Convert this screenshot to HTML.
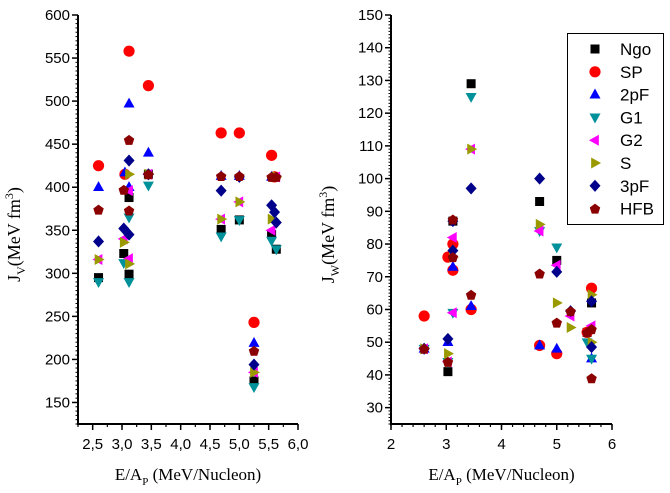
<!DOCTYPE html>
<html><head><meta charset="utf-8"><style>
body{margin:0;background:#fff}
svg{display:block;font-family:"Liberation Sans",sans-serif}
</style></head><body>
<svg id="c" width="670" height="493" xmlns="http://www.w3.org/2000/svg"></svg>
<script>
const seriesNames=["Ngo","SP","2pF","G1","G2","S","3pF","HFB"];
const seriesColors=["#000000","#ff0000","#0000ff","#00919a","#ff00ff","#9a9a00","#00008b","#8b0000"];
const seriesShapes=["square","circle","up","down","left","right","diamond","pentagon"];
// Left panel (J_V)
const jvX=[
[2.6,3.03,3.12,3.12,3.45,4.69,5.0,5.25,5.55,5.63],
[2.6,3.12,3.45,3.05,4.69,5.0,5.25,5.55,5.6],
[2.6,3.12,3.45,3.05,3.12,4.69,5.0,5.25,5.55],
[2.6,3.03,3.12,3.12,3.45,4.69,5.0,5.25,5.55,5.63],
[2.6,3.03,3.12,3.12,3.45,4.69,5.0,5.25,5.55,5.63],
[2.6,3.03,3.12,3.12,3.45,4.69,5.0,5.25,5.55,5.63],
[2.6,3.03,3.12,3.12,3.45,4.69,5.0,5.25,5.55,5.6,5.63],
[2.6,3.03,3.12,3.12,3.45,4.69,5.0,5.25,5.55,5.63]];
const jvY=[
[295,323,388,299,415,351,362,175,345,328],
[425,558,518,415,463,463,243,437,412],
[400,497,440,417,400,413,413,219,412],
[290,312,365,290,402,343,362,168,338,328],
[316,340,396,317,415,363,383,185,350,412],
[316,336,415,311,415,363,383,185,363,412],
[337,352,431,345,415,396,412,194,379,371,359],
[374,397,455,373,415,413,413,210,412,412]];
// Right panel (J_W)
const jwX=[
[3.03,3.12,3.45,4.69,5.0,5.55,5.63],
[2.6,3.03,3.12,3.12,3.45,4.69,5.0,5.63,5.55],
[2.6,3.03,3.12,3.45,4.69,5.0,5.63],
[2.6,3.03,3.12,3.45,4.69,5.0,5.55,5.63],
[2.6,3.03,3.12,3.12,3.45,4.69,5.0,5.25,5.63],
[2.6,3.03,3.12,3.45,4.69,5.0,5.25,5.63,5.63],
[2.6,3.03,3.12,3.12,3.45,4.69,5.0,5.25,5.63,5.63],
[2.6,3.03,3.12,3.12,3.45,4.69,5.0,5.25,5.55,5.63,5.63]];
const jwY=[
[41,87,129,93,75,53,62],
[58,76,80,72,60,49,46.5,66.5,53],
[48,50,73,61,49,48,45],
[48,44,59,125,84,79,50,45],
[48,44,82,59,109,84,73.5,58,55],
[48,46.5,76,109,86,62,54.5,64.5,50],
[48,51,78,87,97,100,71.5,59.5,62.5,48.5],
[48,44,76,87.5,64.5,71,56,59.5,53,54,39]];
const jvXTicks=["2,5","3,0","3,5","4,0","4,5","5,0","5,5","6,0"];
const jvYTicks=[150,200,250,300,350,400,450,500,550,600];
const jwXTicks=[2,3,4,5,6];
const jwYTicks=[30,40,50,60,70,80,90,100,110,120,130,140,150];

const svg=document.getElementById('c');
const NS="http://www.w3.org/2000/svg";
function el(tag,attrs,parent){const e=document.createElementNS(NS,tag);for(const k in attrs)e.setAttribute(k,attrs[k]);(parent||svg).appendChild(e);return e;}
function marker(g,shape,cx,cy,color){
 const s=1.1;let e;
 if(shape==="square")e=el('rect',{x:cx-4.5,y:cy-4.5,width:9,height:9,fill:color},g);
 else if(shape==="circle")e=el('circle',{cx:cx,cy:cy,r:5.6,fill:color},g);
 else{
  let pts;
  if(shape==="up")pts=[[0,-5.5],[5,3.5],[-5,3.5]];
  else if(shape==="down")pts=[[0,5.5],[5,-3.5],[-5,-3.5]];
  else if(shape==="left")pts=[[-5.5,0],[3.5,-5],[3.5,5]];
  else if(shape==="right")pts=[[5.5,0],[-3.5,-5],[-3.5,5]];
  else if(shape==="diamond")pts=[[0,-5.5],[5,0],[0,5.5],[-5,0]];
  else {pts=[];for(let i=0;i<5;i++){const a=-Math.PI/2+i*2*Math.PI/5;pts.push([5*Math.cos(a),5*Math.sin(a)+0.5]);}}
  e=el('polygon',{points:pts.map(p=>(cx+p[0]*s)+","+(cy+p[1]*s)).join(" "),fill:color},g);
 }
 return e;
}
function panel(opt){
 const g=el('g',{});
 
 
 const X=v=>opt.x0+(v-opt.xmin)/(opt.xmax-opt.xmin)*(opt.x1-opt.x0);
 const Y=v=>opt.y1-(v-opt.ymin)/(opt.ymax-opt.ymin)*(opt.y1-opt.y0);
 const ax=el('path',{d:`M${opt.x0},${opt.y0}V${opt.y1}H${opt.x1}`,stroke:"#000","stroke-width":2,fill:"none"},g);
 
 
 for(let v=opt.ymin;v<=opt.ymax+1e-9;v+=opt.yminor){el('line',{x1:opt.x0-2.5,x2:opt.x0,y1:Y(v),y2:Y(v),stroke:"#000","stroke-width":1},g);}
 const yt=el('g',{},g);
 
 
 opt.yticks.forEach(v=>{el('line',{x1:opt.x0-6,x2:opt.x0,y1:Y(v),y2:Y(v),stroke:"#000","stroke-width":1.5},g);
  const t=el('text',{x:opt.x0-8,y:Y(v)+5,"text-anchor":"end","font-size":15},yt);t.textContent=v;});
 for(let v=opt.xmin;v<=opt.xmax+1e-9;v+=opt.xminor){el('line',{x1:X(v),x2:X(v),y1:opt.y1,y2:opt.y1+3,stroke:"#000","stroke-width":1.2},g);}
 const xt=el('g',{},g);
 
 
 opt.xtickVals.forEach((v,i)=>{el('line',{x1:X(v),x2:X(v),y1:opt.y1,y2:opt.y1+6,stroke:"#000","stroke-width":1.5},g);
  const t=el('text',{x:X(v),y:opt.y1+25,"text-anchor":"middle","font-size":15},xt);t.textContent=opt.xtickLabels[i];});
 const xtitle=el('text',{x:(opt.x0+opt.x1)/2,y:480,"text-anchor":"middle","font-size":17,"font-family":"Liberation Serif, serif"},g);
 
 
 xtitle.innerHTML='E/A<tspan font-size="11" dy="5">P</tspan><tspan dy="-5"> (MeV/Nucleon)</tspan>';
 const ytitle=el('text',{transform:`translate(${opt.ytx},${(opt.y0+opt.y1)/2+15}) rotate(-90)`,"text-anchor":"middle","font-size":18,"font-family":"Liberation Serif, serif"},g);
 
 
 ytitle.innerHTML=`J<tspan font-size="12" dy="5">${opt.sub}</tspan><tspan dy="-5">(MeV fm</tspan><tspan font-size="12" dy="-7">3</tspan><tspan dy="7">)</tspan>`;
 seriesNames.forEach((n,si)=>{
  const sg=el('g',{},g);
  
  
  opt.xs[si].forEach((xv,i)=>{const m=marker(sg,seriesShapes[si],X(xv),Y(opt.ys[si][i]),seriesColors[si]);
   
   });
 });
}
panel({name:'jv-panel',x0:78,x1:298,y0:15,y1:424,xmin:2.25,xmax:6.0,ymin:125,ymax:600,yminor:5,xminor:0.25,
 yticks:jvYTicks,xtickVals:[2.5,3,3.5,4,4.5,5,5.5,6],xtickLabels:jvXTicks,xs:jvX,ys:jvY,sub:"V",ytx:20});
panel({name:'jw-panel',x0:391,x1:612,y0:15,y1:424,xmin:2,xmax:6,ymin:25,ymax:150,yminor:1,xminor:0.2,
 yticks:jwYTicks,xtickVals:jwXTicks,xtickLabels:jwXTicks,xs:jwX,ys:jwY,sub:"W",ytx:334});
const lg=el('g',{});


el('rect',{x:567.5,y:33.5,width:96,height:191,fill:"#fff",stroke:"#000","stroke-width":1},lg);
seriesNames.forEach((n,i)=>{
 const y=49+i*22.8;
 const le=el('g',{},lg);
 
 
 marker(le,seriesShapes[i],595,y,seriesColors[i]);
 const t=el('text',{x:620,y:y+6,"font-size":17},le);t.textContent=n;
});
</script>
</body></html>
